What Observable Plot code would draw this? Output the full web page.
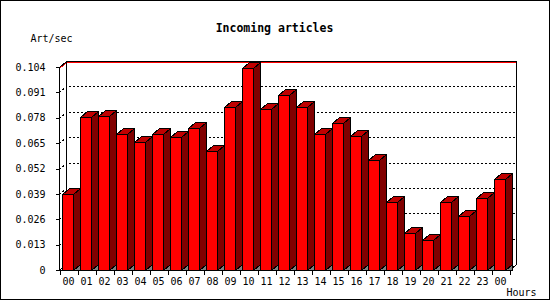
<!DOCTYPE html>
<html><head><meta charset="utf-8">
<script src="https://cdn.jsdelivr.net/npm/d3@7"></script>
<script src="https://cdn.jsdelivr.net/npm/@observablehq/plot@0.6"></script>
<style>body{margin:0;background:#fff}</style>
</head><body><div id="chart"></div>
<script>
const hours = ["00","01","02","03","04","05","06","07","08","09","10","11","12","13","14","15","16","17","18","19","20","21","22","23","00"];
const rates = [0.0389,0.0782,0.0789,0.0695,0.0654,0.0695,0.0681,0.0727,0.0611,0.0835,0.1033,0.0825,0.0895,0.0835,0.0695,0.0753,0.0687,0.0562,0.0347,0.0188,0.0154,0.0347,0.0275,0.0367,0.0465];
const yTicks = [0,0.013,0.026,0.039,0.052,0.065,0.078,0.091,0.104];
const yTickLabels = ["0","0.013","0.026","0.039","0.052","0.065","0.078","0.091","0.104"];
const title = "Incoming articles";
const yLabel = "Art/sec";
const xLabel = "Hours";

const data = hours.map((h, i) => ({i, h, v: rates[i]}));
const DX = 7, DY = 6;

function geo(scales) {
  const x = scales.x, y = scales.y;
  const bw = x.bandwidth ? x.bandwidth() : x(1) - x(0);
  const L = Math.round(x(0)) - 1 + 0.5;
  const R = Math.round(x(hours.length - 1) + bw) - 1 + 0.5;
  const T = Math.round(y(yTicks[yTicks.length - 1])) + 0.5;
  const B = Math.round(y(0)) + 0.5;
  return {x, y, bw, L, R, T, B};
}

function border(index, scales, values, dim) {
  const g = d3.create("svg:g");
  g.append("rect").attr("x", 0.5).attr("y", 0.5)
    .attr("width", dim.width - 1).attr("height", dim.height - 1)
    .attr("fill", "white").attr("stroke", "black").attr("shape-rendering", "crispEdges");
  return g.node();
}

function backFrame(index, scales) {
  const {y, L, R, T, B} = geo(scales);
  const g = d3.create("svg:g").attr("fill", "none").attr("shape-rendering", "crispEdges");
  for (const t of yTicks.slice(1, -1)) {
    const yy = Math.round(y(t)) + 0.5;
    g.append("path").attr("d", `M${L},${yy}L${L + DX},${yy - DY}H${R + DX}`)
      .attr("stroke", "black").attr("stroke-dasharray", "2,2");
  }
  g.append("path").attr("d", `M${L},${T + 1}L${L + DX},${T + 1 - DY}H${R + DX - 1}`).attr("stroke", "#ff0000");
  g.append("path").attr("d", `M${L},${T}L${L + DX},${T - DY}H${R + DX}V${B - DY}L${R},${B}`).attr("stroke", "black");
  g.append("path").attr("d", `M${L + DX},${T - DY}V${B - DY}`).attr("stroke", "black");
  g.append("path").attr("d", `M${L},${B}L${L + DX},${B - DY}`).attr("stroke", "black");
  return g.node();
}

function bars3d(index, scales) {
  const {x, y, B} = geo(scales);
  const g = d3.create("svg:g").attr("stroke", "black").attr("stroke-linejoin", "miter").attr("shape-rendering", "crispEdges");
  for (const d of data) {
    const b = Math.round(x(d.i));
    const fl = b + 2.5, fr = b + 13.5;
    const yt = Math.round(y(d.v)) + 0.5;
    g.append("path").attr("d", `M${fr},${B}L${fr + DX},${B - DY}V${B}Z`).attr("fill", "#808080");
    g.append("path").attr("d", `M${fr},${yt}L${fr + DX},${yt - DY}V${B - DY}L${fr},${B}Z`).attr("fill", "#800000");
    g.append("path").attr("d", `M${fl},${yt}L${fl + DX},${yt - DY}H${fr + DX}L${fr},${yt}Z`).attr("fill", "#c00000");
    g.append("path").attr("d", `M${fl},${yt}H${fr}V${B}H${fl}Z`).attr("fill", "#ff0000");
  }
  return g.node();
}

function frontAxes(index, scales) {
  const {x, y, bw, L, R, T, B} = geo(scales);
  const g = d3.create("svg:g").attr("fill", "none").attr("stroke", "black").attr("shape-rendering", "crispEdges");
  g.append("path").attr("d", `M${L},${T}V${B}H${R}`);
  for (const t of yTicks) {
    const yy = Math.round(y(t)) + 0.5;
    g.append("path").attr("d", `M${L - 4},${yy}H${L}`);
  }
  for (let i = 0; i <= hours.length; i++) {
    const xx = Math.round(i < hours.length ? x(i) : x(i - 1) + bw) + 0.5;
    g.append("path").attr("d", `M${xx},${B}V${B + 4}`);
  }
  return g.node();
}

const chart = Plot.plot({
  width: 550,
  height: 300,
  marginLeft: 54,
  marginRight: 35,
  marginTop: 67,
  marginBottom: 30,
  style: {fontFamily: "'DejaVu Sans Mono', monospace", fontSize: "10px", background: "white"},
  x: {type: "band", domain: d3.range(hours.length), padding: 0, axis: null},
  y: {type: "linear", domain: [0, 0.104], axis: null},
  marks: [
    border,
    backFrame,
    bars3d,
    frontAxes,
    Plot.text(data, {x: "i", text: "h", frameAnchor: "bottom", lineAnchor: "bottom", dy: 14, dx: -1, fill: "black"}),
    Plot.text(yTicks, {y: d => d, text: (d, i) => yTickLabels[i], frameAnchor: "left", textAnchor: "end", dx: -9, fill: "black"}),
    Plot.text([title], {frameAnchor: "top", lineAnchor: "bottom", dy: -36, dx: -10.5, fontWeight: "bold", fontSize: 11.5, fill: "black"}),
    Plot.text([yLabel], {frameAnchor: "top-left", textAnchor: "start", lineAnchor: "bottom", dx: -24, dy: -26, fill: "black"}),
    Plot.text([xLabel], {frameAnchor: "bottom-right", textAnchor: "start", lineAnchor: "bottom", dx: -9, dy: 25, fill: "black"})
  ]
});
document.getElementById("chart").appendChild(chart);
</script>
</body></html>
